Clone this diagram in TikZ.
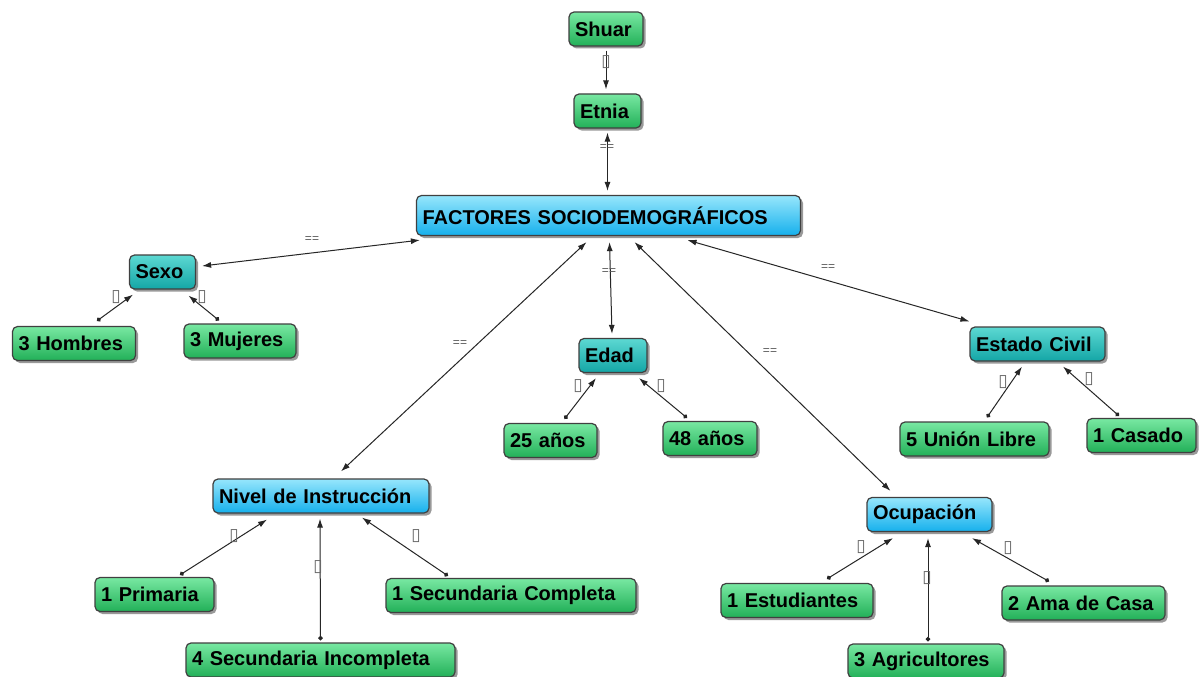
\documentclass[tikz,border=0pt]{standalone}
\usepackage{fontspec}
\setmainfont{Liberation Sans}
\newfontfamily\dejavu{DejaVu Sans}
\usetikzlibrary{arrows.meta,shadows,calc}
\definecolor{gT}{RGB}{120,232,162}
\definecolor{gB}{RGB}{34,176,88}
\definecolor{tT}{RGB}{92,216,210}
\definecolor{tB}{RGB}{20,166,166}
\definecolor{bT}{RGB}{150,230,252}
\definecolor{bB}{RGB}{22,176,236}
\tikzset{
 box/.style={draw=black!75, line width=1.2pt, rounded corners=5pt, inner xsep=6pt, inner ysep=0pt,
   minimum height=34pt, align=left, font=\bfseries\fontsize{20}{22}\selectfont, text=black,
   drop shadow={shadow xshift=2.5pt, shadow yshift=-2.5pt, opacity=0.4, fill=black}},
 gbox/.style={box, top color=gT, bottom color=gB, text width=#1},
 tbox/.style={box, top color=tT, bottom color=tB, text width=#1},
 bbox/.style={box, top color=bT, bottom color=bB, text width=#1},
 conn/.style={line width=1pt, draw=black!85},
 both/.style={conn, {Latex[length=9pt,width=6pt]}-{Latex[length=9pt,width=6pt]}},
 sub/.style={conn, {Circle[length=4.5pt]}-{Latex[length=9pt,width=6pt]}},
 single/.style={conn, -{Latex[length=9pt,width=6pt]}},
 eq/.style={font=\fontsize{12}{12}\selectfont, text=black!65, inner sep=0pt},
 bx/.style={font=\dejavu\fontsize{17}{17}\selectfont, text=black!60, inner sep=0pt},
}
\begin{document}
\begin{tikzpicture}[x=1pt,y=-1pt]
\useasboundingbox[fill=white] (0,0) rectangle (1200,677);
% nodes
\node[gbox=62pt] (shuar) at (606,29) {Shuar};
\node[gbox=55pt] (etnia) at (607.5,111) {Etnia};
\node[bbox=372pt, minimum height=40pt] (fact) at (608.5,215.5) {FACTORES SOCIODEMOGRÁFICOS};
\node[tbox=54pt] (sexo) at (162.5,272) {Sexo};
\node[gbox=111pt] (hombres) at (74,343.5) {3 Hombres};
\node[gbox=100pt] (mujeres) at (240,341) {3 Mujeres};
\node[tbox=56pt] (edad) at (613,355.5) {Edad};
\node[gbox=81pt] (a25) at (550.5,440.5) {25 años};
\node[gbox=82pt] (a48) at (710,438.5) {48 años};
\node[tbox=123pt] (civil) at (1037.5,344) {Estado Civil};
\node[gbox=137pt] (union) at (974.5,439) {5 Unión Libre};
\node[gbox=97pt] (casado) at (1141.5,435.5) {1 Casado};
\node[bbox=204pt] (nivel) at (321,496) {Nivel de Instrucción};
\node[gbox=107pt] (primaria) at (154.5,594.5) {1 Primaria};
\node[gbox=238pt] (seccomp) at (511,595.5) {1 Secundaria Completa};
\node[gbox=257pt] (secinc) at (320.5,660) {4 Secundaria Incompleta};
\node[bbox=113pt] (ocup) at (929.5,514.5) {Ocupación};
\node[gbox=140pt] (estud) at (797,600.5) {1 Estudiantes};
\node[gbox=151pt] (ama) at (1083.5,603) {2 Ama de Casa};
\node[gbox=144pt] (agri) at (926,661) {3 Agricultores};
% main connectors
\draw[single] ($(shuar.south)+(0,4)$) -- ($(etnia.north)+(-1.5,-4)$);
\draw[both] ($(etnia.south)+(0,4)$) -- ($(fact.north)+(-1,-4)$);
\draw[both] ($(fact.south west)+(4,4)$) -- ($(sexo.east)+(6,-6)$);
\draw[both] ($(fact.south)+(-22,6)$) -- ($(nivel.north)+(20,-7)$);
\draw[both] ($(fact.south)+(1,6)$) -- ($(edad.north)+(-1,-4)$);
\draw[both] ($(fact.south)+(26,6)$) -- ($(ocup.north)+(-39,-6)$);
\draw[both] ($(fact.south)+(79,4)$) -- ($(civil.north west)+(0,-5)$);
% sub connectors
\draw[sub] ($(hombres.north)+(23,-5)$) -- ($(sexo.south)+(-29.5,5)$);
\draw[sub] ($(mujeres.north)+(-21,-3)$) -- ($(sexo.south)+(26,6)$);
\draw[sub] ($(a25.north)+(14,-4)$) -- ($(edad.south)+(-17,5)$);
\draw[sub] ($(a48.north)+(-23,-3)$) -- ($(edad.south)+(26,5)$);
\draw[sub] ($(union.north)+(12.5,-4)$) -- ($(civil.south)+(-15.5,5)$);
\draw[sub] ($(casado.north)+(-22.5,-2)$) -- ($(civil.south)+(25.5,5)$);
\draw[sub] ($(primaria.north)+(25.5,-2)$) -- ($(nivel.south)+(-54,6)$);
\draw[sub] ($(secinc.north)+(0,-2)$) -- ($(nivel.south)+(-1,5)$);
\draw[sub] ($(seccomp.north)+(-63,-2)$) -- ($(nivel.south)+(41,4)$);
\draw[sub] ($(estud.north)+(30,-4)$) -- ($(ocup.south)+(-36.5,6)$);
\draw[sub] ($(agri.north)+(2,-2)$) -- ($(ocup.south)+(-1.5,6)$);
\draw[sub] ($(ama.north)+(-34.5,-4)$) -- ($(ocup.south)+(42.5,6)$);
% labels
\node[bx] (l1) at (606,62) {▯};
\node[eq] (l2) at (607,148) {==};
\node[eq] (l3) at (312,240) {==};
\node[eq] (l4) at (460,344) {==};
\node[eq] (l5) at (609,272) {==};
\node[eq] (l6) at (770,352) {==};
\node[eq] (l7) at (828,268) {==};
\node[bx] (s1) at (116,297) {▯};
\node[bx] (s2) at (202,297) {▯};
\node[bx] (s3) at (578,386) {▯};
\node[bx] (s4) at (661,386) {▯};
\node[bx] (s5) at (1003,382) {▯};
\node[bx] (s6) at (1089,379) {▯};
\node[bx] (s7) at (234,536) {▯};
\node[bx] (s8) at (318,567) {▯};
\node[bx] (s9) at (416,536) {▯};
\node[bx] (s10) at (861,547) {▯};
\node[bx] (s11) at (927,578) {▯};
\node[bx] (s12) at (1008,548) {▯};
\end{tikzpicture}
\end{document}
